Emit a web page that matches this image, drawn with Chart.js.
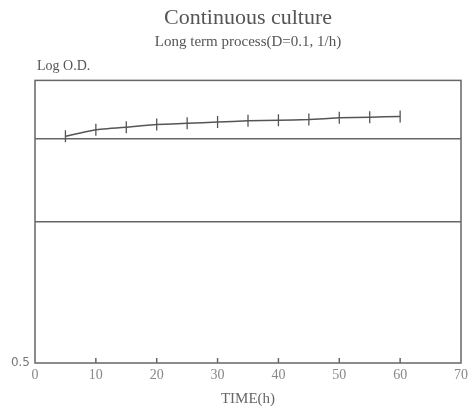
<!DOCTYPE html>
<html>
<head>
<meta charset="utf-8">
<script src="https://cdn.jsdelivr.net/npm/chart.js@4"></script>
<style>
  html, body { margin: 0; padding: 0; background: #fff; }
</style>
</head>
<body>
<canvas id="myChart" width="470" height="408"></canvas>
<script>
// time (h) and log O.D. readings
const times = [5, 10, 15, 20, 25, 30, 35, 40, 45, 50, 55, 60];
const odValues = [1.52, 1.57, 1.59, 1.61, 1.62, 1.63, 1.64, 1.645, 1.65, 1.665, 1.67, 1.675];
const xTicks = [0, 10, 20, 30, 40, 50, 60, 70];
const yGridLines = [1, 1.5];

const ink = '#666';
const serif = "'Liberation Serif', 'DejaVu Serif', serif";

// frame round the plot, inner tick marks and the y caption
const framePlugin = {
    id: 'frame',
    afterDraw(chart) {
        const ctx = chart.ctx;
        const a = chart.chartArea;
        const x = chart.scales.x;
        ctx.save();
        ctx.strokeStyle = ink;
        ctx.lineWidth = 1.5;
        ctx.strokeRect(a.left, a.top, a.right - a.left, a.bottom - a.top);
        ctx.beginPath();
        xTicks.slice(1, -1).forEach(t => {
            const px = x.getPixelForValue(t);
            ctx.moveTo(px, a.bottom);
            ctx.lineTo(px, a.bottom - 5);
        });
        ctx.stroke();
        ctx.fillStyle = '#555';
        ctx.font = '14px ' + serif;
        ctx.textBaseline = 'middle';
        ctx.fillText('Log O.D.', 37, 66);
        ctx.restore();
    }
};

const ctx = document.getElementById('myChart').getContext('2d');
new Chart(ctx, {
    type: 'line',
    data: {
        datasets: [{
            data: times.map((t, i) => ({ x: t, y: odValues[i] })),
            borderColor: '#555',
            borderWidth: 1.5,
            pointStyle: 'line',
            rotation: 90,
            pointRadius: 6,
            pointBorderWidth: 1.3,
            pointBorderColor: '#555',
            tension: 0.1
        }]
    },
    options: {
        responsive: false,
        animation: false,
        layout: { padding: { left: 0, right: 9, top: 0, bottom: 0 } },
        plugins: {
            legend: { display: false },
            tooltip: { enabled: false },
            title: {
                display: true,
                fullSize: false,
                text: 'Continuous culture',
                color: '#555',
                font: { family: serif, size: 22, weight: 'normal' },
                padding: { top: 5, bottom: 0 }
            },
            subtitle: {
                display: true,
                fullSize: false,
                text: 'Long term process(D=0.1, 1/h)',
                color: '#555',
                font: { family: serif, size: 15 },
                padding: { top: 2, bottom: 29 }
            }
        },
        scales: {
            x: {
                type: 'linear',
                min: 0,
                max: 70,
                afterBuildTicks: s => { s.ticks = xTicks.map(v => ({ value: v })); },
                afterFit: s => { s.height = 45; s.paddingRight = 0; },
                grid: { display: false, drawTicks: false, tickLength: 0 },
                border: { display: false },
                ticks: {
                    color: '#888',
                    font: { family: serif, size: 14 },
                    padding: 4,
                    maxRotation: 0
                },
                title: {
                    display: true,
                    text: 'TIME(h)',
                    color: '#666',
                    font: { family: serif, size: 15 },
                    padding: { top: 4, bottom: 0 }
                }
            },
            y: {
                type: 'logarithmic',
                min: 0.5,
                max: 2,
                afterBuildTicks: s => { s.ticks = [0.5].concat(yGridLines).concat([2]).map(v => ({ value: v })); },
                afterFit: s => { s.width = 35; },
                grid: {
                    drawTicks: false,
                    lineWidth: 1.5,
                    color: c => (yGridLines.includes(c.tick.value) ? ink : 'rgba(0,0,0,0)')
                },
                border: { display: false },
                ticks: {
                    color: '#777',
                    font: { family: "'DejaVu Sans', sans-serif", size: 12 },
                    padding: 5,
                    callback: v => (v === 0.5 ? '0.5' : '')
                }
            }
        }
    },
    plugins: [framePlugin]
});
</script>
</body>
</html>
